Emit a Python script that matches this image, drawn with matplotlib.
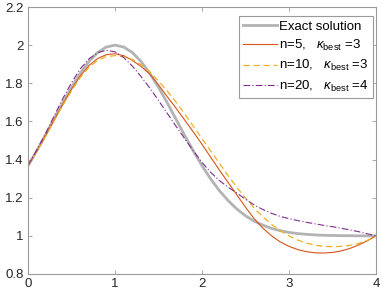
import matplotlib
matplotlib.use('Agg')
import matplotlib.pyplot as plt
import numpy as np

plt.rcParams['font.family'] = ['Liberation Sans', 'DejaVu Sans']
plt.rcParams['mathtext.fontset'] = 'custom'
plt.rcParams['mathtext.rm'] = 'Liberation Sans'
plt.rcParams['mathtext.it'] = 'Liberation Sans:italic'

# sample points, step 0.1
x_vals = [i / 10 for i in range(41)]
exact = [1.368, 1.445, 1.527, 1.613, 1.698, 1.779, 1.852, 1.914, 1.961, 1.990,
         2.000, 1.990, 1.961, 1.914, 1.852, 1.779, 1.698, 1.613, 1.527, 1.445,
         1.368, 1.298, 1.237, 1.185, 1.141, 1.105, 1.077, 1.056, 1.039, 1.027,
         1.018, 1.012, 1.008, 1.005, 1.003, 1.002, 1.001, 1.001, 1.000, 1.000, 1.000]
n5 = [1.368, 1.445, 1.525, 1.608, 1.690, 1.768, 1.838, 1.893, 1.930, 1.950,
      1.955, 1.945, 1.920, 1.888, 1.848, 1.792, 1.730, 1.670, 1.608, 1.545,
      1.480, 1.412, 1.345, 1.280, 1.215, 1.150, 1.090, 1.040, 1.000, 0.968,
      0.945, 0.928, 0.917, 0.911, 0.910, 0.913, 0.921, 0.934, 0.952, 0.974, 1.000]
n10 = [1.368, 1.443, 1.520, 1.603, 1.685, 1.760, 1.830, 1.883, 1.920, 1.940,
       1.945, 1.940, 1.925, 1.897, 1.860, 1.812, 1.760, 1.702, 1.640, 1.575,
       1.510, 1.445, 1.380, 1.316, 1.255, 1.198, 1.145, 1.100, 1.060, 1.027,
       1.000, 0.978, 0.962, 0.951, 0.945, 0.943, 0.945, 0.950, 0.960, 0.976, 1.000]
n20 = [1.368, 1.450, 1.535, 1.628, 1.720, 1.803, 1.875, 1.928, 1.960, 1.973,
       1.965, 1.935, 1.890, 1.835, 1.775, 1.710, 1.643, 1.576, 1.510, 1.446,
       1.385, 1.333, 1.290, 1.255, 1.225, 1.192, 1.162, 1.138, 1.118, 1.102,
       1.090, 1.080, 1.071, 1.063, 1.055, 1.048, 1.040, 1.031, 1.022, 1.011, 1.000]

labels = ['Exact solution',
          r'n=5,   $\kappa_{\mathrm{best}}$ =3',
          r'n=10,   $\kappa_{\mathrm{best}}$ =3',
          r'n=20,   $\kappa_{\mathrm{best}}$ =4']
xticks = [0, 1, 2, 3, 4]
yticks = [0.8, 1.0, 1.2, 1.4, 1.6, 1.8, 2.0, 2.2]
ytick_labels = ['0.8', '1', '1.2', '1.4', '1.6', '1.8', '2', '2.2']

fig = plt.figure(figsize=(3.82, 2.94), dpi=100)
ax = fig.add_axes([28 / 382, 1 - 274 / 294, 348 / 382, 267 / 294])

ax.plot(x_vals, exact, color='#b3b3b3', lw=2.0, label=labels[0])
ax.plot(x_vals, n5, color='#D95319', lw=0.8, label=labels[1])
ax.plot(x_vals, n10, color='#EDB120', lw=0.9, ls=(0, (5, 3)), label=labels[2])
ax.plot(x_vals, n20, color='#7E2F8E', lw=0.8, ls=(0, (6, 2, 1, 2)), label=labels[3])

ax.set_xlim(0, 4)
ax.set_ylim(0.8, 2.2)
ax.set_xticks(xticks)
ax.set_xticklabels([str(t) for t in xticks])
ax.set_yticks(yticks)
ax.set_yticklabels(ytick_labels)

for s in ax.spines.values():
    s.set_color('#9a9a9a')
    s.set_linewidth(0.8)
ax.tick_params(direction='in', length=3, width=0.6, color='#9a9a9a',
               top=True, right=True, labelsize=9.5, labelcolor='#262626', pad=3)

lgd = ax.legend(loc='upper right', bbox_to_anchor=(0.991, 0.965), borderaxespad=0,
                fontsize=9.5, fancybox=False, framealpha=1, edgecolor='#9a9a9a',
                handlelength=2.6, handletextpad=0.15, borderpad=0.3, labelspacing=0.4)
lgd.get_frame().set_linewidth(0.8)

fig.savefig('out.png', dpi=100)
